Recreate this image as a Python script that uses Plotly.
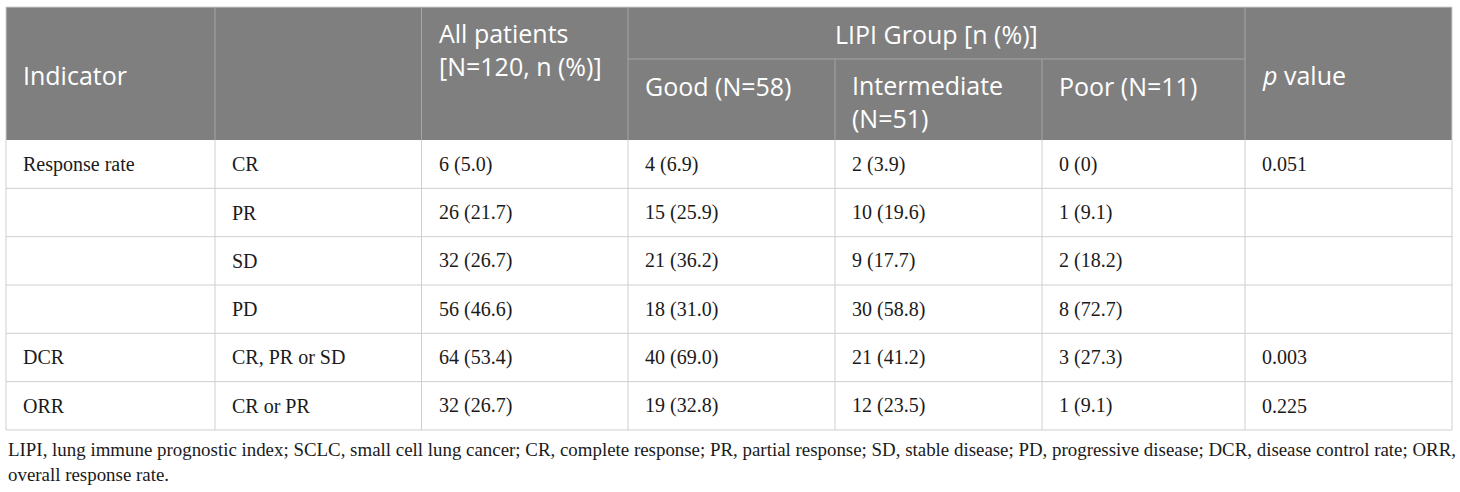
import plotly.graph_objects as go

# ---------------- data ----------------
indicators = ["Response rate", "", "", "", "DCR", "ORR"]
subcategories = ["CR", "PR", "SD", "PD", "CR, PR or SD", "CR or PR"]
all_patients = ["6 (5.0)", "26 (21.7)", "32 (26.7)", "56 (46.6)", "64 (53.4)", "32 (26.7)"]
lipi_good = ["4 (6.9)", "15 (25.9)", "21 (36.2)", "18 (31.0)", "40 (69.0)", "19 (32.8)"]
lipi_intermediate = ["2 (3.9)", "10 (19.6)", "9 (17.7)", "30 (58.8)", "21 (41.2)", "12 (23.5)"]
lipi_poor = ["0 (0)", "1 (9.1)", "2 (18.2)", "8 (72.7)", "3 (27.3)", "1 (9.1)"]
p_values = ["0.051", "", "", "", "0.003", "0.225"]

header_top = ["Indicator", "", "All patients<br>[N=120, n (%)]", "LIPI Group [n (%)]", "<i>p</i> value"]
header_sub = ["Good (N=58)", "Intermediate<br>(N=51)", "Poor (N=11)"]
footnote = ("LIPI, lung immune prognostic index; SCLC, small cell lung cancer; CR, complete response; "
            "PR, partial response; SD, stable disease; PD, progressive disease; DCR, disease control rate; ORR,"
            "<br>overall response rate.")

columns = [indicators, subcategories, all_patients, lipi_good, lipi_intermediate, lipi_poor, p_values]

# ---------------- layout / style ----------------
W, H = 1460, 492
left0 = 6
col_widths = [209, 206.5, 206.5, 207, 207, 203, 207]
head_top, head_split, head_bot = 7, 59, 140
row_h = 48.33
pad = 16

HEAD_FILL = "#7f7f7f"
HEAD_LINE = "#a6a6a6"
GRID = "#cfcfcf"
BODY_COLOR = "#1a1a1a"
HEAD_FONT = dict(family="Open Sans", size=25, color="#ffffff")
BODY_FONT = dict(family="Liberation Serif, Times New Roman, serif", size=20, color=BODY_COLOR)

edges = [left0]
for w in col_widths:
    edges.append(edges[-1] + w)
n_rows = len(subcategories)
row_edges = [head_bot + i * row_h for i in range(n_rows + 1)]

fig = go.Figure()
# invisible trace to activate axes
fig.add_trace(go.Scatter(x=[0, W], y=[0, H], mode="markers", marker=dict(opacity=0), hoverinfo="skip", showlegend=False))

shapes = []
# header background
shapes.append(dict(type="rect", xref="x", yref="y", x0=edges[0], x1=edges[-1], y0=head_top, y1=head_bot,
                   fillcolor=HEAD_FILL, line=dict(width=0), layer="below"))

def vline(x, y0, y1, color):
    shapes.append(dict(type="line", xref="x", yref="y", x0=x, x1=x, y0=y0, y1=y1, line=dict(color=color, width=1)))

def hline(y, x0, x1, color):
    shapes.append(dict(type="line", xref="x", yref="y", x0=x0, x1=x1, y0=y, y1=y, line=dict(color=color, width=1)))

# header lines
hline(head_top, edges[0], edges[-1], GRID)
for i in [0, 1, 2, 3, 6, 7]:
    vline(edges[i], head_top, head_bot, HEAD_LINE if 0 < i < 7 else GRID)
for i in [4, 5]:
    vline(edges[i], head_split, head_bot, HEAD_LINE)
hline(head_split, edges[3], edges[6], HEAD_LINE)

# body grid
for i in range(len(edges)):
    vline(edges[i], head_bot, row_edges[-1], GRID)
for r in range(1, n_rows + 1):
    hline(row_edges[r], edges[0], edges[-1], GRID)

annotations = []

def add_text(x, y, text, font):
    annotations.append(dict(x=x, y=y, xref="x", yref="y", text=text, showarrow=False,
                            xanchor="left", yanchor="middle", align="left", font=font, borderpad=0))

# header texts
add_text(edges[0] + pad, 75, header_top[0], HEAD_FONT)
add_text(edges[2] + pad, 49, header_top[2], HEAD_FONT)
annotations.append(dict(x=(edges[3] + edges[6]) / 2, y=34, xref="x", yref="y", text=header_top[3],
                        showarrow=False, xanchor="center", yanchor="middle", font=HEAD_FONT, borderpad=0))
add_text(edges[6] + pad, 75, header_top[4], HEAD_FONT)
sub_y = [86, 101, 86]
for k, t in enumerate(header_sub):
    add_text(edges[3 + k] + pad, sub_y[k], t, HEAD_FONT)

# body texts
for c, col in enumerate(columns):
    for r, val in enumerate(col):
        if val:
            add_text(edges[c] + pad, (row_edges[r] + row_edges[r + 1]) / 2, val, BODY_FONT)

# footnote
annotations.append(dict(x=7, y=461.5, xref="x", yref="y", text=footnote, showarrow=False,
                        xanchor="left", yanchor="middle", align="left", borderpad=0,
                        font=dict(family="Liberation Serif, Times New Roman, serif", size=18.9, color=BODY_COLOR)))

fig.update_layout(
    width=W, height=H, margin=dict(l=0, r=0, t=0, b=0),
    paper_bgcolor="white", plot_bgcolor="white",
    xaxis=dict(range=[0, W], visible=False, fixedrange=True),
    yaxis=dict(range=[H, 0], visible=False, fixedrange=True),
    shapes=shapes, annotations=annotations, showlegend=False,
)

fig.write_html("out.html", config={"displayModeBar": False},
               post_script="document.body.style.margin='0';")
